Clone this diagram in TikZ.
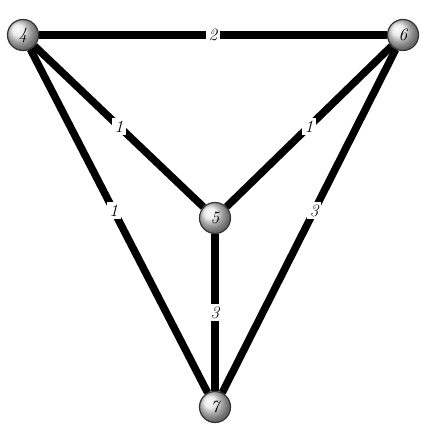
\documentclass[tikz,border=0pt]{standalone}
\usetikzlibrary{positioning}
\tikzset{
  vtx/.style={circle, draw=black!80, line width=1.2pt, shading=ball, ball color=gray!20, minimum size=31pt, inner sep=0pt, font=\itshape\LARGE},
  edge/.style={line width=7.5pt},
  wlbl/.style={fill=white, inner sep=2.5pt, font=\itshape\LARGE}
}
\begin{document}
\begin{tikzpicture}[x=1pt,y=-1pt]
  \useasboundingbox (0,0) rectangle (420,425);
  %% vertices
  \node[vtx] (n4) at (23,35) {4};
  \node[vtx] (n6) at (403,35) {6};
  \node[vtx] (n5) at (215,218) {5};
  \node[vtx] (n7) at (215,407) {7};

  %% edges
  \draw[edge] (n4) -- node[wlbl] {2} (n6);
  \draw[edge] (n4) -- node[wlbl] {1} (n5);
  \draw[edge] (n6) -- node[wlbl] {1} (n5);
  \draw[edge] (n4) -- node[wlbl, pos=0.47] {1} (n7);
  \draw[edge] (n6) -- node[wlbl, pos=0.47] {3} (n7);
  \draw[edge] (n5) -- node[wlbl] {3} (n7);
\end{tikzpicture}
\end{document}
